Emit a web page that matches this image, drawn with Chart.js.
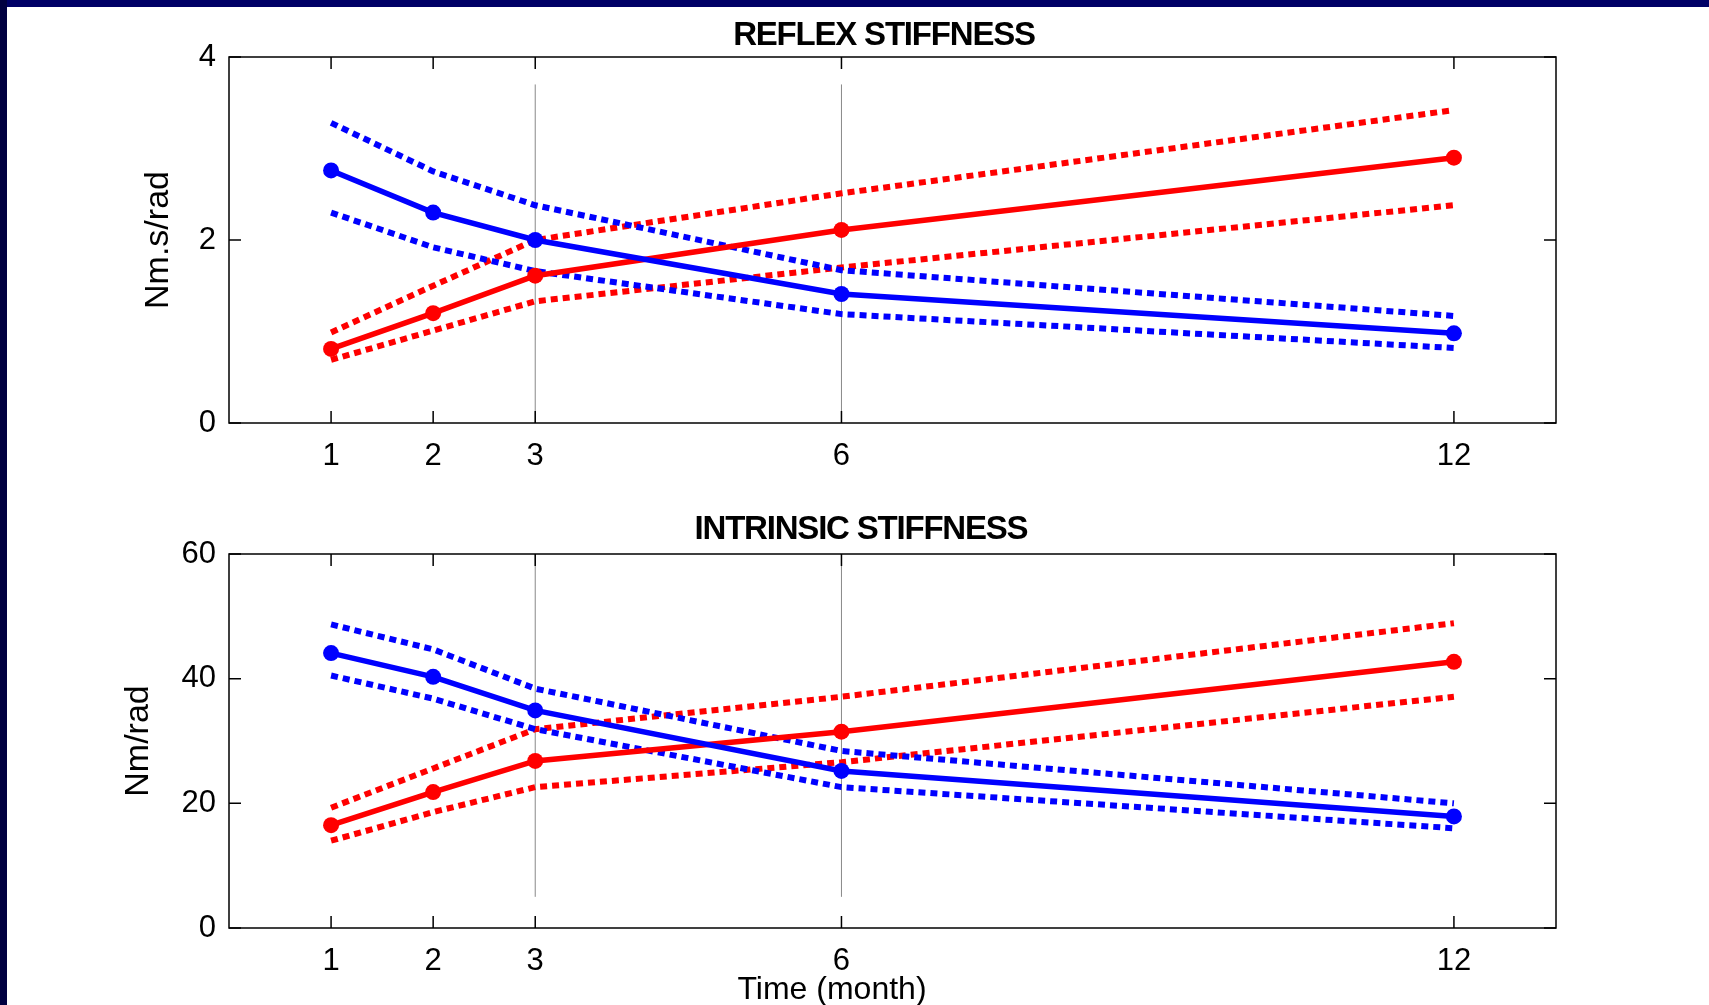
<!DOCTYPE html>
<html>
<head>
<meta charset="utf-8">
<title>Reflex and intrinsic stiffness</title>
<script src="https://cdn.jsdelivr.net/npm/chart.js@4.4.1/dist/chart.umd.min.js"></script>
<style>
    html, body { margin: 0; padding: 0; background: #fff; width: 1709px; height: 1005px; overflow: hidden; }
    canvas { position: absolute; left: 0; }
    #topBand { position: absolute; left: 0; top: 0; width: 1709px; height: 7px; background: #000066; }
    #leftBand { position: absolute; left: 0; top: 0; width: 7px; height: 1005px; background: #000040; }
    .panel-title {
        position: absolute; width: 600px; text-align: center; line-height: 36px;
        font: bold 33px "Liberation Sans", Arial, sans-serif; letter-spacing: -1.2px; color: #000;
    }
    #xTitle {
        position: absolute; left: 532px; top: 970px; width: 600px; text-align: center; line-height: 40px;
        font: 32px "Liberation Sans", Arial, sans-serif; color: #000;
    }
</style>
</head>
<body>
<canvas id="reflexChart" width="1709" height="490" style="top:0"></canvas>
<canvas id="intrinsicChart" width="1709" height="530" style="top:490px"></canvas>
<div id="topBand"></div>
<div id="leftBand"></div>
<div class="panel-title" style="left:584px; top:15px">REFLEX STIFFNESS</div>
<div class="panel-title" style="left:561px; top:509px">INTRINSIC STIFFNESS</div>
<div id="xTitle">Time (month)</div>

<script>
(function () {
    'use strict';

    // Time points (month)
    const months = [1, 2, 3, 6, 12];
    const xTicks = [1, 2, 3, 6, 12];
    const guideMonths = [3, 6];

    // Reflex stiffness (Nm.s/rad)
    const reflexTicks = [0, 2, 4];
    const reflexBlue = [2.76, 2.30, 2.00, 1.41, 0.98];
    const reflexBlueUpper = [3.28, 2.75, 2.38, 1.67, 1.17];
    const reflexBlueLower = [2.30, 1.92, 1.66, 1.19, 0.82];
    const reflexRed = [0.81, 1.20, 1.61, 2.11, 2.90];
    const reflexRedUpper = [0.99, 1.50, 2.00, 2.51, 3.42];
    const reflexRedLower = [0.69, 1.01, 1.33, 1.70, 2.38];
    const reflexGuideRange = [0, 3.7];

    // Intrinsic stiffness (Nm/rad)
    const intrinsicTicks = [0, 20, 40, 60];
    const intrinsicBlue = [44.1, 40.3, 34.9, 25.2, 17.9];
    const intrinsicBlueUpper = [48.7, 44.7, 38.4, 28.4, 20.0];
    const intrinsicBlueLower = [40.5, 36.8, 31.9, 22.6, 16.0];
    const intrinsicRed = [16.5, 21.8, 26.8, 31.5, 42.7];
    const intrinsicRedUpper = [19.3, 25.6, 31.9, 37.1, 48.9];
    const intrinsicRedLower = [14.0, 18.6, 22.6, 26.6, 37.1];
    const intrinsicGuideRange = [5, 60];

    const FONT = '"Liberation Sans", Arial, sans-serif';
    const BLUE = '#0000ff';
    const RED = '#ff0000';

    function points(values) {
        return months.map(function (m, i) { return { x: m, y: values[i] }; });
    }

    function meanLine(values, color) {
        return {
            data: points(values),
            borderColor: color,
            backgroundColor: color,
            borderWidth: 5.5,
            pointRadius: 8,
            pointBorderWidth: 0,
            pointBackgroundColor: color,
            tension: 0,
            order: 1
        };
    }

    function boundLine(values, color) {
        return {
            data: points(values),
            borderColor: color,
            borderWidth: 6,
            borderDash: [7, 5],
            borderCapStyle: 'butt',
            pointRadius: 0,
            tension: 0,
            order: 2
        };
    }

    function guideLine(month, range) {
        return {
            data: [{ x: month, y: range[0] }, { x: month, y: range[1] }],
            borderColor: '#888888',
            borderWidth: 1,
            pointRadius: 0,
            order: 3
        };
    }

    /**
     * Box round the plot area with inward tick marks on all four sides
     */
    const boxAxes = {
        id: 'boxAxes',
        afterDraw: function (chart) {
            const ctx = chart.ctx;
            const a = chart.chartArea;
            const xs = chart.scales.x;
            const ys = chart.scales.y;
            const len = 12;
            ctx.save();
            ctx.strokeStyle = '#000';
            ctx.lineWidth = 1.5;
            ctx.strokeRect(a.left, a.top, a.right - a.left, a.bottom - a.top);
            ctx.beginPath();
            xs.ticks.forEach(function (t) {
                const px = xs.getPixelForValue(t.value);
                ctx.moveTo(px, a.bottom); ctx.lineTo(px, a.bottom - len);
                ctx.moveTo(px, a.top); ctx.lineTo(px, a.top + len);
            });
            ys.ticks.forEach(function (t) {
                const py = ys.getPixelForValue(t.value);
                ctx.moveTo(a.left, py); ctx.lineTo(a.left + len, py);
                ctx.moveTo(a.right, py); ctx.lineTo(a.right - len, py);
            });
            ctx.stroke();
            ctx.restore();
        }
    };

    function makeChart(canvasId, cfg) {
        const datasets = [
            meanLine(cfg.blue, BLUE),
            meanLine(cfg.red, RED),
            boundLine(cfg.blueUpper, BLUE),
            boundLine(cfg.blueLower, BLUE),
            boundLine(cfg.redUpper, RED),
            boundLine(cfg.redLower, RED)
        ];
        guideMonths.forEach(function (m) { datasets.push(guideLine(m, cfg.guideRange)); });

        return new Chart(document.getElementById(canvasId), {
            type: 'line',
            data: { datasets: datasets },
            options: {
                responsive: false,
                animation: false,
                layout: { padding: { top: cfg.padTop, right: 153, left: 0, bottom: 0 } },
                plugins: {
                    legend: { display: false },
                    tooltip: { enabled: false }
                },
                scales: {
                    x: {
                        type: 'linear',
                        min: 0,
                        max: 13,
                        afterBuildTicks: function (s) {
                            s.ticks = xTicks.map(function (v) { return { value: v }; });
                        },
                        afterFit: function (s) { s.height = cfg.xHeight; },
                        grid: { display: false, drawTicks: false },
                        border: { display: false },
                        ticks: {
                            padding: 15,
                            maxRotation: 0,
                            autoSkip: false,
                            color: '#000',
                            font: { family: FONT, size: 31 }
                        }
                    },
                    y: {
                        min: 0,
                        max: cfg.yTicks[cfg.yTicks.length - 1],
                        afterBuildTicks: function (s) {
                            s.ticks = cfg.yTicks.map(function (v) { return { value: v }; });
                        },
                        afterFit: function (s) { s.width = 229; },
                        grid: { display: false, drawTicks: false },
                        border: { display: false },
                        ticks: {
                            padding: 13,
                            color: '#000',
                            font: { family: FONT, size: 31 }
                        },
                        title: {
                            display: true,
                            text: cfg.yTitle,
                            color: '#000',
                            padding: { top: cfg.yTitlePad, bottom: 0 },
                            font: { family: FONT, size: 34 }
                        }
                    }
                }
            },
            plugins: [boxAxes]
        });
    }

    makeChart('reflexChart', {
        blue: reflexBlue, blueUpper: reflexBlueUpper, blueLower: reflexBlueLower,
        red: reflexRed, redUpper: reflexRedUpper, redLower: reflexRedLower,
        guideRange: reflexGuideRange,
        yTicks: reflexTicks,
        yTitle: 'Nm.s/rad',
        yTitlePad: 138,
        padTop: 57,
        xHeight: 67
    });

    makeChart('intrinsicChart', {
        blue: intrinsicBlue, blueUpper: intrinsicBlueUpper, blueLower: intrinsicBlueLower,
        red: intrinsicRed, redUpper: intrinsicRedUpper, redLower: intrinsicRedLower,
        guideRange: intrinsicGuideRange,
        yTicks: intrinsicTicks,
        yTitle: 'Nm/rad',
        yTitlePad: 118,
        padTop: 64,
        xHeight: 92
    });
})();
</script>
</body>
</html>
